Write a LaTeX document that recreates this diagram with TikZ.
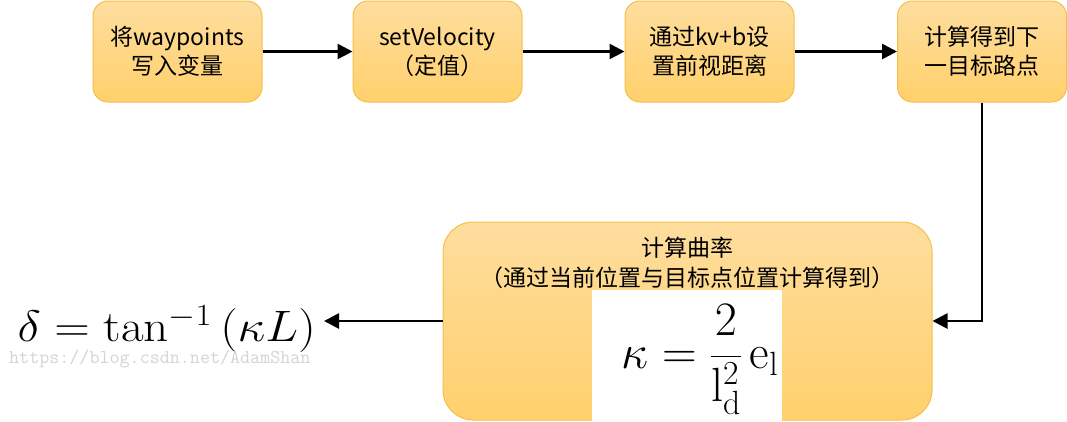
\RequirePackage{fix-cm}
\documentclass[tikz,border=0pt]{standalone}
\usepackage{amsmath}
\usepackage{graphicx}
\usepackage{fontspec}
\newfontfamily\cjk{Noto Sans CJK SC}
\usetikzlibrary{arrows.meta}
\definecolor{boxtop}{HTML}{FEDD9E}
\definecolor{boxbot}{HTML}{FFD06C}
\definecolor{boxline}{HTML}{F4C04A}
\definecolor{wmgray}{HTML}{D4D4D4}
\tikzset{
  stepbox/.style={rounded corners=15pt, draw=boxline, line width=1pt,
    top color=boxtop, bottom color=boxbot, minimum width=169pt,
    minimum height=101pt, align=center, inner sep=0pt,
    font=\cjk\fontsize{23}{29}\selectfont},
  bigbox/.style={rounded corners=30pt, draw=boxline, line width=1pt,
    top color=boxtop, bottom color=boxbot, minimum width=489pt,
    minimum height=198pt, inner sep=0pt},
  arr/.style={line width=2.7pt, -{Triangle[length=15pt,width=15pt]}},
}
\begin{document}
\begin{tikzpicture}[x=1pt,y=-1pt]
\useasboundingbox (0,0) rectangle (1067,421);
\node[stepbox] (b1) at (177.5,51.5) {将waypoints\\写入变量};
\node[stepbox] (b2) at (437.5,51.5) {setVelocity\\（定值）};
\node[stepbox] (b3) at (709.5,51.5) {通过kv+b设\\置前视距离};
\node[stepbox] (b4) at (982,51.5) {计算得到下\\一目标路点};
\node[bigbox] (big) at (687.5,321) {};
\node[align=center, font=\cjk\fontsize{23}{30}\selectfont, inner sep=0pt] (ctext) at (687.5,263) {计算曲率\\（通过当前位置与目标点位置计算得到）};
\node[fill=white, minimum width=190pt, minimum height=131pt, inner sep=0pt] (kbox) at (687,355.5) {};
\node[inner sep=0pt] (kform) at (700,360) {\fontsize{48}{48}\selectfont$\kappa = \dfrac{2}{\mathrm{l}^{\raisebox{3pt}{$\scriptstyle 2$}}_{\raisebox{-2pt}{$\scriptstyle\mathrm{d}$}}}\,\mathrm{e}_{\mathrm{l}}$};
\node[anchor=east, inner sep=0pt] (delta) at (316,329) {\scalebox{1.12}[1]{\fontsize{44}{44}\selectfont$\delta = \tan^{-1}\,(\kappa L)$}};
\node[anchor=west, inner sep=0pt, text=wmgray] (wm) at (9,359) {\ttfamily\fontsize{19.5}{19.5}\selectfont https://blog.csdn.net/AdamShan};
\draw[arr] (b1.east) -- (b2.west);
\draw[arr] (b2.east) -- (b3.west);
\draw[arr] (b3.east) -- (b4.west);
\draw[arr] (b4.south) |- (big.east);
\coordinate (dtip) at (324,321);
\draw[arr] (big.west) -- (dtip);
\end{tikzpicture}
\end{document}
